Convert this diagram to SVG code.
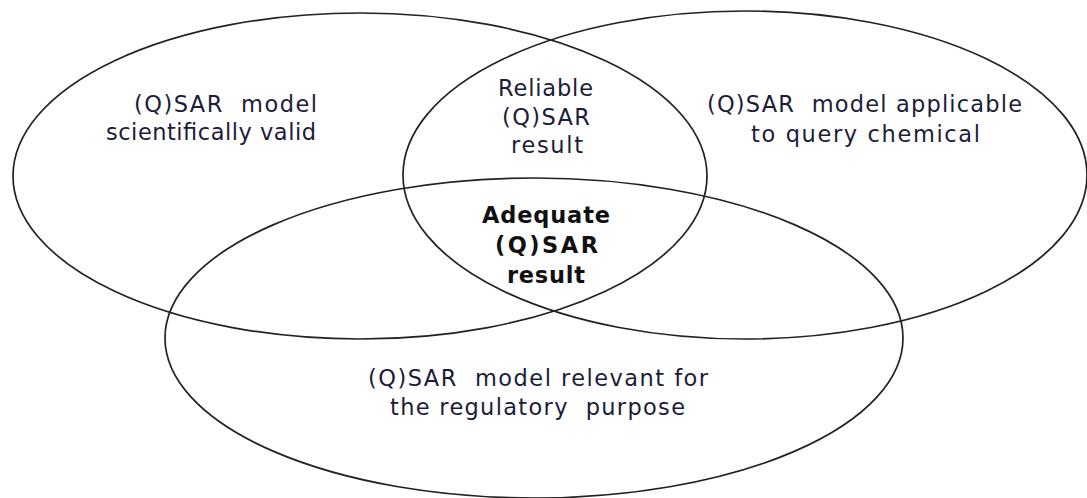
<svg xmlns="http://www.w3.org/2000/svg" width="1087" height="498" viewBox="0 0 1087 498">
<style>
.e{fill:none;stroke:#222;stroke-width:1.7}
.t{font-family:"DejaVu Sans",Verdana,sans-serif;font-size:22.5px;fill:#1c1c38;white-space:pre}
.b{font-weight:bold;fill:#111}
</style>
<rect width="1087" height="498" fill="#fff"/>
<g id="connectors"></g>
<g id="left-set">
<ellipse class="e" cx="360" cy="176" rx="347" ry="163"/>
<text class="t" x="134" y="112" textLength="183" lengthAdjust="spacing" xml:space="preserve">(Q)SAR  model</text>
<text class="t" x="106" y="140" textLength="210" lengthAdjust="spacing">scientifically valid</text>
</g>
<g id="right-set">
<ellipse class="e" cx="745" cy="175" rx="342" ry="164"/>
<text class="t" x="707" y="112" textLength="315" lengthAdjust="spacing" xml:space="preserve">(Q)SAR  model applicable</text>
<text class="t" x="751" y="142" textLength="229" lengthAdjust="spacing">to query chemical</text>
</g>
<g id="bottom-set">
<ellipse class="e" cx="534" cy="338" rx="369" ry="160"/>
<text class="t" x="368" y="386" textLength="340" lengthAdjust="spacing" xml:space="preserve">(Q)SAR  model relevant for</text>
<text class="t" x="390" y="415" textLength="295" lengthAdjust="spacing" xml:space="preserve">the regulatory  purpose</text>
</g>
<g id="reliable">
<text class="t" x="498" y="96" textLength="95" lengthAdjust="spacing">Reliable</text>
<text class="t" x="502" y="125" textLength="88" lengthAdjust="spacing">(Q)SAR</text>
<text class="t" x="511" y="153" textLength="72" lengthAdjust="spacing">result</text>
</g>
<g id="adequate">
<text class="t b" x="482" y="223" textLength="128" lengthAdjust="spacing">Adequate</text>
<text class="t b" x="495" y="253" textLength="103" lengthAdjust="spacing">(Q)SAR</text>
<text class="t b" x="507" y="283" textLength="78" lengthAdjust="spacing">result</text>
</g>
</svg>
